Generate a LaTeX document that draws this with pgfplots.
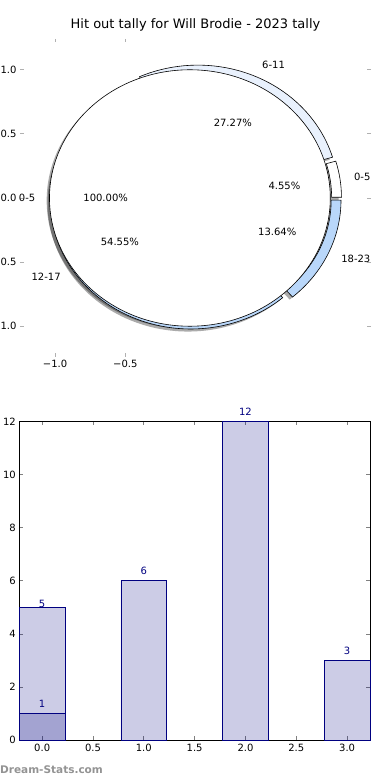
\documentclass[border=0pt]{standalone}
\usepackage{fontspec}
\setmainfont{DejaVu Sans}
\usepackage{pgfplots}
\pgfplotsset{compat=1.18}
\definecolor{barc}{HTML}{000080}
\definecolor{wA}{HTML}{FFFFFF}
\definecolor{wB}{HTML}{E9F1FD}
\definecolor{wC}{HTML}{B9D7FA}
\definecolor{wD}{HTML}{B9D7FA}
\definecolor{tickgray}{HTML}{B0B0B0}
% axis units of the pie axis (pt per data unit)
\def\ux{140.4}\def\uy{128.226}
\def\ro{1.0}\def\ri{0.93}\def\ex{0.04}
\def\total{22}
\newcommand\lf{\fontsize{10}{12}\selectfont}
\newcommand\wedgeangles[1]{%
  \pgfmathsetmacro\wa{360*\cum/\total}%
  \pgfmathsetmacro\wb{360*(\cum+#1)/\total}%
  \pgfmathsetmacro\wm{(\wa+\wb)/2}%
  \pgfmathsetmacro\cx{\ex*cos(\wm)}%
  \pgfmathsetmacro\cy{\ex*sin(\wm)}%
  \pgfmathsetmacro\tmpc{\cum+#1}%
  \xdef\cum{\tmpc}%
}
\newcommand\ringpath[2]{%
 (axis cs:{\cx+#1+\ro*cos(\wa)},{\cy+#2+\ro*sin(\wa)}) arc[start angle=\wa, end angle=\wb, x radius={\ro*\ux*1pt}, y radius={\ro*\uy*1pt}]
 -- (axis cs:{\cx+#1+\ri*cos(\wb)},{\cy+#2+\ri*sin(\wb)}) arc[start angle=\wb, end angle=\wa, x radius={\ri*\ux*1pt}, y radius={\ri*\uy*1pt}] -- cycle}
\begin{document}
\begin{tikzpicture}
\begin{axis}[
  at={(20pt,423pt)}, anchor=south west,
  width=351pt, height=318pt, scale only axis,
  xmin=-1.25, xmax=1.25, ymin=-1.24, ymax=1.24,
  clip=false,
  axis line style={draw=none},
  xtick={-1,-0.5}, xticklabels={−1.0,−0.5},
  ytick={-1,-0.5,0,0.5,1}, yticklabels={−1.0,−0.5,0.0,0.5,1.0},
  tick align=inside, major tick length=3.5pt,
  tick style={draw=tickgray, line width=0.8pt},
  ticklabel style={font=\lf},
  title={Hit out tally for Will Brodie - 2023 tally},
  title style={font=\fontsize{13}{15}\selectfont, anchor=base, at={(0.5,1)}, yshift=4.7pt},
]
\pgfplotsextra{%
  % shadows
  \gdef\cum{0}%
  \foreach \lab/\val/\col in {0-5/1/wA, 6-11/6/wB, 12-17/12/wC, 18-23/3/wD}{%
    \wedgeangles{\val}%
    \fill[black, opacity=0.33] \ringpath{-0.02}{-0.02};
  }%
  \fill[black, opacity=0.33] (axis cs:{-\ex-0.02},-0.02) ellipse[x radius={\ux*1pt}, y radius={\uy*1pt}];
  % outer ring
  \gdef\cum{0}%
  \foreach \lab/\val/\col in {0-5/1/wA, 6-11/6/wB, 12-17/12/wC, 18-23/3/wD}{%
    \wedgeangles{\val}%
    \draw[fill=\col, line width=0.6pt] \ringpath{0}{0};
  }%
  % inner pie
  \draw[fill=white, line width=0.6pt] (axis cs:-\ex,0) ellipse[x radius={\ux*1pt}, y radius={\uy*1pt}];
  \node[anchor=east, inner sep=0pt, font=\lf] at (axis cs:{-\ex-1.1},0) {0-5};
  \node[inner sep=0pt, font=\lf] at (axis cs:{-\ex-0.6},0) {100.00\%};
  % ring labels
  \gdef\cum{0}%
  \foreach \lab/\val/\col in {0-5/1/wA, 6-11/6/wB, 12-17/12/wC, 18-23/3/wD}{%
    \wedgeangles{\val}%
    \ifdim\cx pt>0pt \def\anc{west}\else\def\anc{east}\fi
    \node[anchor=\anc, inner sep=0pt, font=\lf] at (axis cs:{\cx+1.1*cos(\wm)},{\cy+1.1*sin(\wm)}) {\lab};
    \pgfmathsetmacro\pct{100*\val/\total}%
    \node[inner sep=0pt, font=\lf] at (axis cs:{\cx+0.6*cos(\wm)},{\cy+0.6*sin(\wm)}) {\pgfmathprintnumber[fixed,fixed zerofill,precision=2,assume math mode=true]{\pct}\%};
  }%
}
\end{axis}

\begin{axis}[
  at={(19.3pt,39.7pt)}, anchor=south west,
  width=350.7pt, height=319pt, scale only axis,
  xmin=-0.225, xmax=3.225, ymin=0, ymax=12,
  clip=false,
  xtick={0,0.5,1,1.5,2,2.5,3}, ytick={0,2,4,6,8,10,12},
  xticklabel style={/pgf/number format/fixed, /pgf/number format/fixed zerofill, /pgf/number format/precision=1},
  /pgf/number format/assume math mode=true,
  tick align=inside, major tick length=4pt,
  tick style={draw=gray, line width=0.8pt},
  ticklabel style={font=\lf},
  axis line style={black, line width=0.8pt},
  barst/.style={ybar, bar width=0.45, bar shift=0pt, draw=barc, fill=barc, fill opacity=0.2, line width=0.8pt,
    nodes near coords, nodes near coords align=vertical,
    every node near coord/.append style={text=barc, text opacity=1, fill opacity=1, inner sep=0pt, font=\lf}},
]
\addplot[barst, every node near coord/.append style={yshift=5.4pt}] coordinates {(1,6) (2,12) (3,3)};
\addplot[barst, every node near coord/.append style={yshift=-0.6pt}] coordinates {(0,5)};
\addplot[barst, every node near coord/.append style={yshift=5.4pt}] coordinates {(0,1)};
\end{axis}
\node[anchor=base west, inner sep=0pt, text=gray!85, font=\bfseries\fontsize{10.5}{12}\selectfont] at (0pt,6pt) {Dream-Stats.com};
\pgfresetboundingbox
\path[use as bounding box] (0,0) rectangle (390pt,780pt);
\end{tikzpicture}
\end{document}
